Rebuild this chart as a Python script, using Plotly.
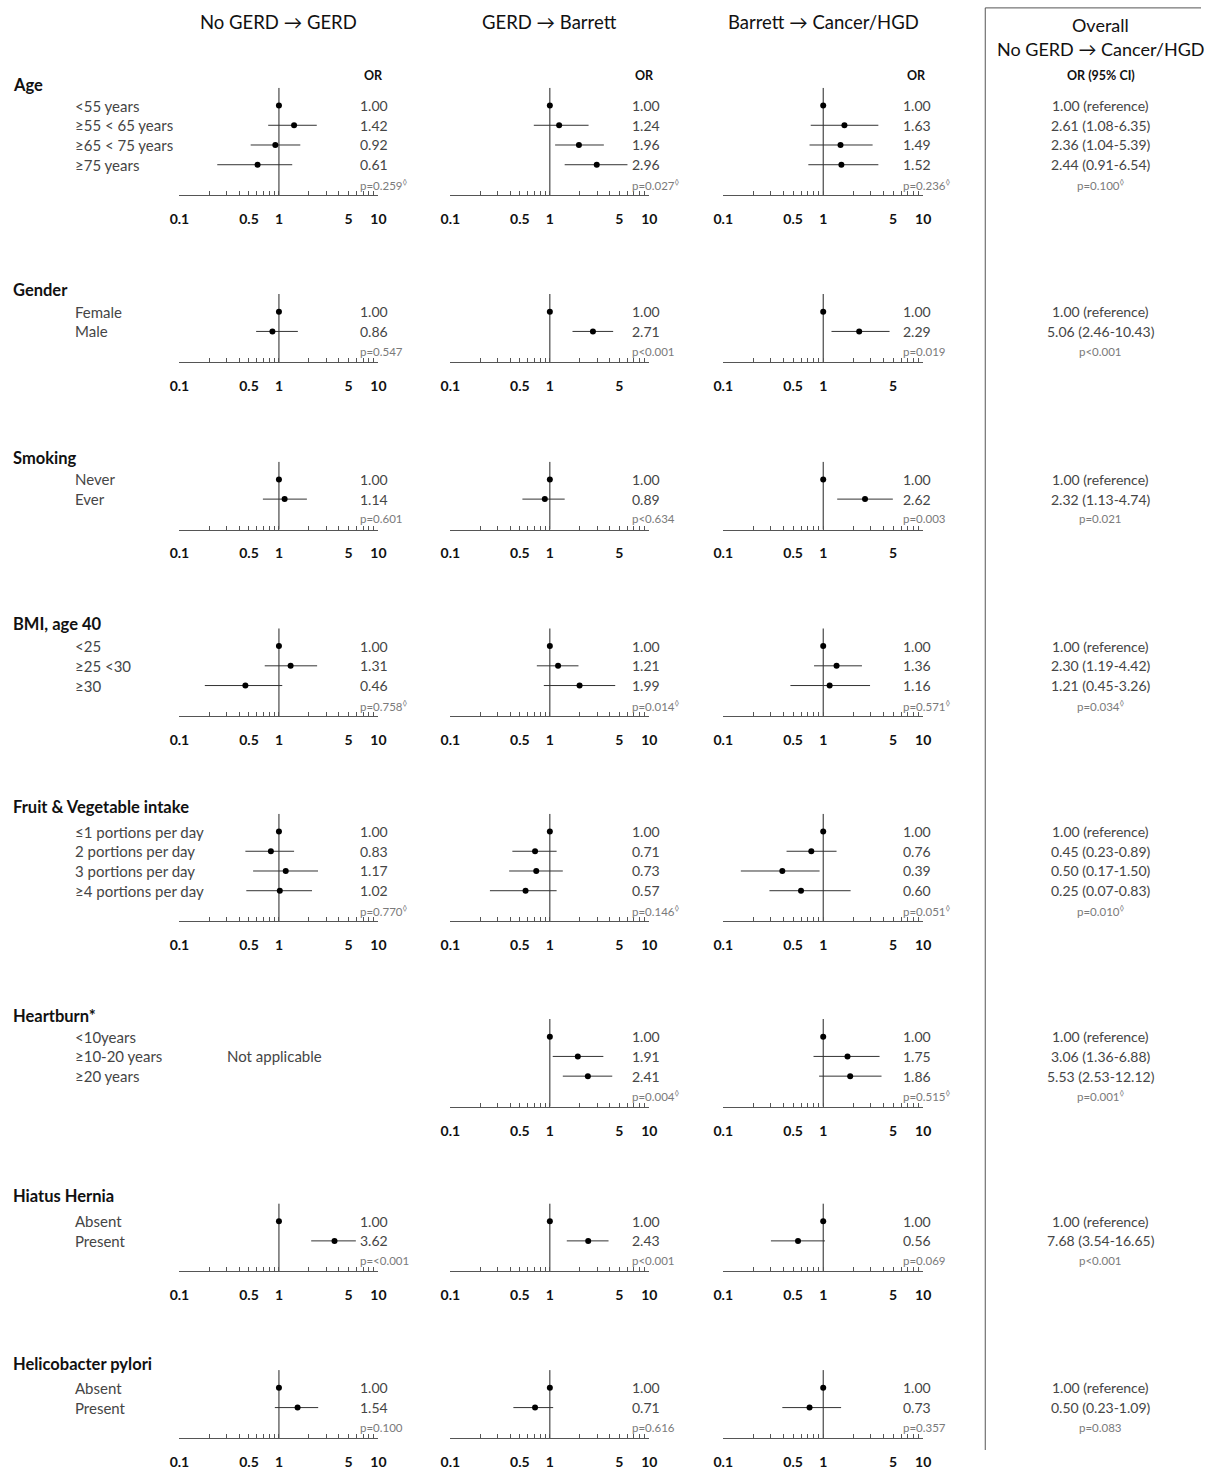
import plotly.graph_objects as go

W, H = 1209, 1470
FONT = "Lato"
D = "\u25ca"  # lozenge superscript marker

col_titles = ["No GERD \u2192 GERD", "GERD \u2192 Barrett", "Barrett \u2192 Cancer/HGD"]
overall_title = ["Overall", "No GERD \u2192 Cancer/HGD"]

group_names = ["Age", "Gender", "Smoking", "BMI, age 40", "Fruit & Vegetable intake",
               "Heartburn*", "Hiatus Hernia", "Helicobacter pylori"]

# ---- Age ----
age_levels = ["<55 years", "\u226555 < 65 years", "\u226565 < 75 years", "\u226575 years"]
age_or = [[1.00, 1.42, 0.92, 0.61], [1.00, 1.24, 1.96, 2.96], [1.00, 1.63, 1.49, 1.52]]
age_lo = [[None, 0.78, 0.52, 0.24], [None, 0.69, 1.13, 1.41], [None, 0.75, 0.73, 0.71]]
age_hi = [[None, 2.40, 1.64, 1.36], [None, 2.45, 3.49, 6.03], [None, 3.56, 3.12, 3.56]]
age_p = ["p=0.259" + D, "p=0.027" + D, "p=0.236" + D]
age_overall = ["1.00 (reference)", "2.61 (1.08-6.35)", "2.36 (1.04-5.39)", "2.44 (0.91-6.54)"]
age_overall_p = "p=0.100" + D

# ---- Gender ----
gender_levels = ["Female", "Male"]
gender_or = [[1.00, 0.86], [1.00, 2.71], [1.00, 2.29]]
gender_lo = [[None, 0.59], [None, 1.69], [None, 1.21]]
gender_hi = [[None, 1.55], [None, 4.33], [None, 4.61]]
gender_p = ["p=0.547", "p<0.001", "p=0.019"]
gender_overall = ["1.00 (reference)", "5.06 (2.46-10.43)"]
gender_overall_p = "p<0.001"

# ---- Smoking ----
smoking_levels = ["Never", "Ever"]
smoking_or = [[1.00, 1.14], [1.00, 0.89], [1.00, 2.62]]
smoking_lo = [[None, 0.69], [None, 0.53], [None, 1.38]]
smoking_hi = [[None, 1.91], [None, 1.41], [None, 4.97]]
smoking_p = ["p=0.601", "p<0.634", "p=0.003"]
smoking_overall = ["1.00 (reference)", "2.32 (1.13-4.74)"]
smoking_overall_p = "p=0.021"

# ---- BMI ----
bmi_levels = ["<25", "\u226525 <30", "\u226530"]
bmi_or = [[1.00, 1.31, 0.46], [1.00, 1.21, 1.99], [1.00, 1.36, 1.16]]
bmi_lo = [[None, 0.72, 0.18], [None, 0.74, 0.87], [None, 0.81, 0.47]]
bmi_hi = [[None, 2.42, 1.08], [None, 1.94, 4.54], [None, 2.44, 2.94]]
bmi_p = ["p=0.758" + D, "p=0.014" + D, "p=0.571" + D]
bmi_overall = ["1.00 (reference)", "2.30 (1.19-4.42)", "1.21 (0.45-3.26)"]
bmi_overall_p = "p=0.034" + D

# ---- Fruit & Vegetable ----
fruit_levels = ["\u22641 portions per day", "2 portions per day", "3 portions per day", "\u22654 portions per day"]
fruit_or = [[1.00, 0.83, 1.17, 1.02], [1.00, 0.71, 0.73, 0.57], [1.00, 0.76, 0.39, 0.60]]
fruit_lo = [[None, 0.46, 0.55, 0.47], [None, 0.42, 0.39, 0.25], [None, 0.43, 0.15, 0.29]]
fruit_hi = [[None, 1.42, 2.47, 2.15], [None, 1.17, 1.35, 1.17], [None, 1.36, 0.92, 1.88]]
fruit_p = ["p=0.770" + D, "p=0.146" + D, "p=0.051" + D]
fruit_overall = ["1.00 (reference)", "0.45 (0.23-0.89)", "0.50 (0.17-1.50)", "0.25 (0.07-0.83)"]
fruit_overall_p = "p=0.010" + D

# ---- Heartburn ----
heart_levels = ["<10years", "\u226510-20 years", "\u226520 years"]
heart_or = [None, [1.00, 1.91, 2.41], [1.00, 1.75, 1.86]]
heart_lo = [None, [None, 1.07, 1.35], [None, 0.80, 0.91]]
heart_hi = [None, [None, 3.45, 4.24], [None, 3.66, 3.83]]
heart_p = [None, "p=0.004" + D, "p=0.515" + D]
heart_overall = ["1.00 (reference)", "3.06 (1.36-6.88)", "5.53 (2.53-12.12)"]
heart_overall_p = "p=0.001" + D
not_applicable = "Not applicable"

# ---- Hiatus hernia ----
hiatus_levels = ["Absent", "Present"]
hiatus_or = [[1.00, 3.62], [1.00, 2.43], [1.00, 0.56]]
hiatus_lo = [[None, 2.11], [None, 1.48], [None, 0.30]]
hiatus_hi = [[None, 5.93], [None, 3.89], [None, 1.04]]
hiatus_p = ["p=<0.001", "p<0.001", "p=0.069"]
hiatus_overall = ["1.00 (reference)", "7.68 (3.54-16.65)"]
hiatus_overall_p = "p<0.001"

# ---- H. pylori ----
hp_levels = ["Absent", "Present"]
hp_or = [[1.00, 1.54], [1.00, 0.71], [1.00, 0.73]]
hp_lo = [[None, 0.91], [None, 0.43], [None, 0.39]]
hp_hi = [[None, 2.48], [None, 1.08], [None, 1.51]]
hp_p = ["p=0.100", "p=0.616", "p=0.357"]
hp_overall = ["1.00 (reference)", "0.50 (0.23-1.09)"]
hp_overall_p = "p=0.083"

tick_vals = [0.1, 0.2, 0.3, 0.4, 0.5, 0.6, 0.7, 0.8, 0.9, 1, 2, 3, 4, 5, 6, 7, 8, 9, 10]
tick_labels = ["0.1", "0.5", "1", "5", "10"]
tick_labels_short = ["0.1", "0.5", "1", "5"]

groups = [
    dict(levels=age_levels, orv=age_or, lo=age_lo, hi=age_hi, p=age_p, ov=age_overall, ovp=age_overall_p),
    dict(levels=gender_levels, orv=gender_or, lo=gender_lo, hi=gender_hi, p=gender_p, ov=gender_overall, ovp=gender_overall_p),
    dict(levels=smoking_levels, orv=smoking_or, lo=smoking_lo, hi=smoking_hi, p=smoking_p, ov=smoking_overall, ovp=smoking_overall_p),
    dict(levels=bmi_levels, orv=bmi_or, lo=bmi_lo, hi=bmi_hi, p=bmi_p, ov=bmi_overall, ovp=bmi_overall_p),
    dict(levels=fruit_levels, orv=fruit_or, lo=fruit_lo, hi=fruit_hi, p=fruit_p, ov=fruit_overall, ovp=fruit_overall_p),
    dict(levels=heart_levels, orv=heart_or, lo=heart_lo, hi=heart_hi, p=heart_p, ov=heart_overall, ovp=heart_overall_p),
    dict(levels=hiatus_levels, orv=hiatus_or, lo=hiatus_lo, hi=hiatus_hi, p=hiatus_p, ov=hiatus_overall, ovp=hiatus_overall_p),
    dict(levels=hp_levels, orv=hp_or, lo=hp_lo, hi=hp_hi, p=hp_p, ov=hp_overall, ovp=hp_overall_p),
]
short_tick_panels = {(1, 1), (1, 2), (2, 1), (2, 2)}

# ---- layout geometry (pixels) ----
first_row_px = [107, 316, 486, 655, 843, 1051, 1238, 1407]
title_px = [86, 294, 464, 633, 818, 1030, 1213, 1383]
col_x_px = [(172, 374), (447, 649), (724, 927)]
val_x_px = [353, 629, 904]
or_head_x_px = [369, 644, 920]
overall_x_px = 1107
label_x_px = 64
title_x_px = 1
na_x_px = 218
box_x_px = 990
ROW_PX = 20

def px(x):
    return x / W

def py(y):
    return 1 - y / H

fig = go.Figure()
layout_axes = {}
annotations = []

TXT = "#454545"
PC = "#7a7a7a"
LAB_SIZE = 15
VAL_SIZE = 14

for g, grp in enumerate(groups):
    n = len(grp["levels"])
    f = first_row_px[g]
    bottom = -(n + 0.55)
    top = 0.9
    ydom = [py(f + ROW_PX * (n + 0.55)), py(f - ROW_PX * top)]
    for c in range(3):
        k = g * 3 + c + 1
        xname = "xaxis" if k == 1 else f"xaxis{k}"
        yname = "yaxis" if k == 1 else f"yaxis{k}"
        xr = "x" if k == 1 else f"x{k}"
        yr = "y" if k == 1 else f"y{k}"
        labels = tick_labels_short if (g, c) in short_tick_panels else tick_labels
        ttext = [(("%g" % v) if ("%g" % v) in labels else "") for v in tick_vals]
        present = grp["orv"][c] is not None
        layout_axes[xname] = dict(
            type="log", range=[-1, 1], domain=[px(col_x_px[c][0]), px(col_x_px[c][1])],
            anchor=yr, showline=present, linecolor="#555", linewidth=1,
            ticks="inside" if present else "", ticklen=4, tickcolor="#555",
            tickvals=tick_vals, ticktext=ttext, showticklabels=present,
            tickfont=dict(family=FONT, size=14, color="#111", weight="bold"),
            ticklabelstandoff=11, showgrid=False, zeroline=False, fixedrange=True,
        )
        layout_axes[yname] = dict(domain=ydom, range=[bottom, top], anchor=xr,
                                  visible=False, fixedrange=True)
        if not present:
            continue
        orv, lo, hi = grp["orv"][c], grp["lo"][c], grp["hi"][c]
        # reference line at OR = 1
        fig.add_trace(go.Scatter(x=[1, 1], y=[top, bottom], mode="lines",
                                 line=dict(color="#222", width=1), xaxis=xr, yaxis=yr,
                                 hoverinfo="skip"))
        # CI lines
        cx, cy = [], []
        for i in range(n):
            if lo[i] is not None:
                cx += [lo[i], hi[i], None]
                cy += [-i, -i, None]
        fig.add_trace(go.Scatter(x=cx, y=cy, mode="lines", line=dict(color="#333", width=1),
                                 xaxis=xr, yaxis=yr, hoverinfo="skip"))
        fig.add_trace(go.Scatter(x=orv, y=[-i for i in range(n)], mode="markers",
                                 marker=dict(color="black", size=6), xaxis=xr, yaxis=yr,
                                 cliponaxis=False))
        for i in range(n):
            annotations.append(dict(x=px(val_x_px[c]), xref="paper", y=-i, yref=yr,
                                    text="%.2f" % orv[i], showarrow=False, xanchor="left",
                                    font=dict(family=FONT, size=VAL_SIZE, color=TXT)))
        annotations.append(dict(x=px(val_x_px[c]), xref="paper", y=-n, yref=yr,
                                text=grp["p"][c].replace(D, "<sup>" + D + "</sup>"),
                                showarrow=False, xanchor="left",
                                font=dict(family=FONT, size=11.5, color=PC)))
        if g == 0:
            annotations.append(dict(x=px(or_head_x_px[c]), xref="paper", y=py(77), yref="paper",
                                    text="<b>OR</b>", showarrow=False, xanchor="center",
                                    yanchor="middle",
                                    font=dict(family=FONT, size=12.5, color="#111")))
    yr1 = "y" if g == 0 else f"y{g * 3 + 1}"
    annotations.append(dict(x=px(title_x_px), xref="paper", y=py(title_px[g]), yref="paper",
                            text="<b>" + group_names[g].replace("&", "&amp;") + "</b>",
                            showarrow=False, xanchor="left", yanchor="middle",
                            font=dict(family=FONT, size=16.5, color="#111")))
    for i, lab in enumerate(grp["levels"]):
        annotations.append(dict(x=px(label_x_px), xref="paper", y=-i, yref=yr1,
                                text=lab.replace("<", "&lt;"), showarrow=False, xanchor="left",
                                font=dict(family=FONT, size=LAB_SIZE, color=TXT)))
    for i, t in enumerate(grp["ov"]):
        annotations.append(dict(x=px(overall_x_px), xref="paper", y=-i, yref=yr1,
                                text=t, showarrow=False, xanchor="center",
                                font=dict(family=FONT, size=VAL_SIZE, color=TXT)))
    annotations.append(dict(x=px(overall_x_px), xref="paper", y=-n, yref=yr1,
                            text=grp["ovp"].replace(D, "<sup>" + D + "</sup>"),
                            showarrow=False, xanchor="center",
                            font=dict(family=FONT, size=11.5, color=PC)))
    if grp["orv"][0] is None:
        annotations.append(dict(x=px(na_x_px), xref="paper", y=-1, yref=yr1,
                                text=not_applicable, showarrow=False, xanchor="left",
                                font=dict(family=FONT, size=LAB_SIZE, color=TXT)))

# column headers
for c, t in enumerate(col_titles):
    cx = (col_x_px[c][0] + col_x_px[c][1]) / 2
    annotations.append(dict(x=px(cx), xref="paper", y=py(22), yref="paper", text=t,
                            showarrow=False, xanchor="center", yanchor="middle",
                            font=dict(family=FONT, size=18.5, color="#111")))
annotations.append(dict(x=px(overall_x_px), xref="paper", y=py(25), yref="paper",
                        text=overall_title[0], showarrow=False, xanchor="center", yanchor="middle",
                        font=dict(family=FONT, size=18, color="#111")))
annotations.append(dict(x=px(overall_x_px), xref="paper", y=py(50), yref="paper",
                        text=overall_title[1], showarrow=False, xanchor="center", yanchor="middle",
                        font=dict(family=FONT, size=18, color="#111")))
annotations.append(dict(x=px(overall_x_px), xref="paper", y=py(77), yref="paper",
                        text="<b>OR (95% CI)</b>", showarrow=False, xanchor="center", yanchor="middle",
                        font=dict(family=FONT, size=12.5, color="#111")))

shapes = [
    dict(type="line", xref="paper", yref="paper", x0=px(box_x_px), x1=px(box_x_px), y0=py(8), y1=0,
         line=dict(color="#555", width=1)),
    dict(type="line", xref="paper", yref="paper", x0=px(box_x_px), x1=1, y0=py(8), y1=py(8),
         line=dict(color="#555", width=1)),
]

fig.update_layout(
    width=W, height=H, margin=dict(l=0, r=0, t=0, b=0),
    paper_bgcolor="white", plot_bgcolor="white", showlegend=False,
    annotations=annotations, shapes=shapes, **layout_axes,
)

fig.write_html("out.html")
